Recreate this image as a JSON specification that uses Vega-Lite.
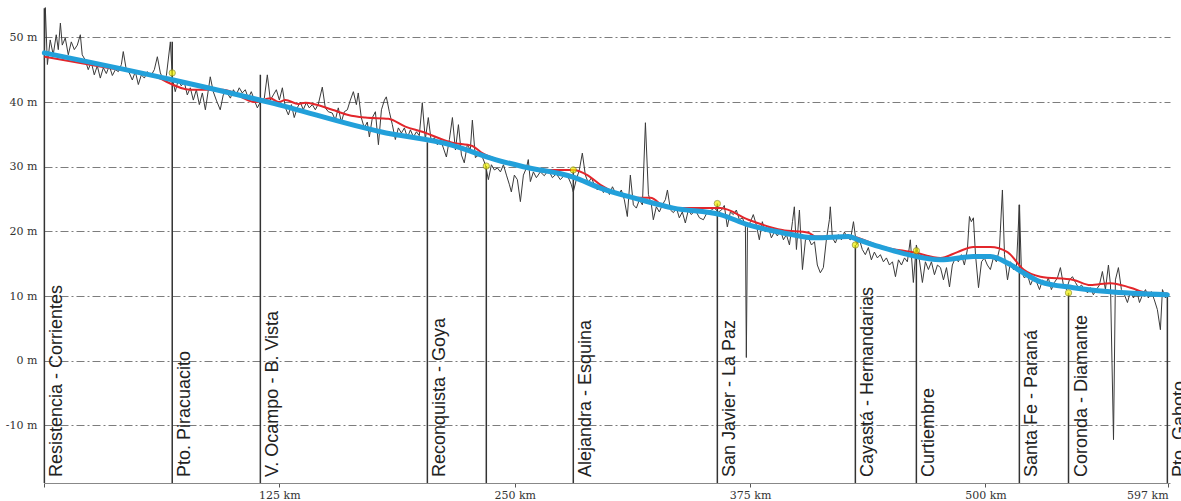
{
"$schema": "https://vega.github.io/schema/vega-lite/v6.json",
"width": 1126, "height": 478,
"autosize": {"type": "none"},
"padding": {"left": 44, "top": 5, "right": 11, "bottom": 18},
"background": "white",
"config": {"view": {"stroke": null}, "font": "Liberation Sans"},
"datasets": {
"stations": [
{"name": "Resistencia - Corrientes", "km": 0.2, "top": 54.5},
{"name": "Pto. Piracuacito", "km": 68.1, "top": 49.3},
{"name": "V. Ocampo - B. Vista", "km": 114.9, "top": 44.2},
{"name": "Reconquista - Goya", "km": 203.6, "top": 33.8},
{"name": "", "km": 234.9, "top": 30.1},
{"name": "Alejandra - Esquina", "km": 281.1, "top": 29.5},
{"name": "San Javier - La Paz", "km": 357.6, "top": 24.3},
{"name": "Cayastá - Hernandarias", "km": 430.9, "top": 17.9},
{"name": "Curtiembre", "km": 463.3, "top": 17.2},
{"name": "Santa Fe - Paraná", "km": 518.0, "top": 24.1},
{"name": "Coronda - Diamante", "km": 544.1, "top": 10.5},
{"name": "Pto. Gaboto", "km": 596.6, "top": 10.2}
],
"markers": [
{"km": 68.1, "m": 44.5}, {"km": 234.9, "m": 30.1}, {"km": 281.1, "m": 29.5},
{"km": 357.6, "m": 24.3}, {"km": 430.9, "m": 17.9}, {"km": 463.3, "m": 17.0},
{"km": 544.1, "m": 10.5}
],
"blue": [
{"km": 0.2, "m": 47.6}, {"km": 68.7, "m": 43.4}, {"km": 120.2, "m": 39.9},
{"km": 178.7, "m": 35.4}, {"km": 216.9, "m": 33.3}, {"km": 239.7, "m": 31.1},
{"km": 254.6, "m": 30.0}, {"km": 281.1, "m": 28.4}, {"km": 295.5, "m": 26.7},
{"km": 316.7, "m": 24.9}, {"km": 334.3, "m": 23.6}, {"km": 359.2, "m": 22.6},
{"km": 374.1, "m": 21.0}, {"km": 392.1, "m": 19.8}, {"km": 409.7, "m": 19.0},
{"km": 427.2, "m": 19.2}, {"km": 432.5, "m": 18.7}, {"km": 445.3, "m": 17.5},
{"km": 459.1, "m": 16.4}, {"km": 476.1, "m": 15.6}, {"km": 493.6, "m": 16.1},
{"km": 502.6, "m": 16.1}, {"km": 511.7, "m": 15.1}, {"km": 520.1, "m": 13.6},
{"km": 529.2, "m": 12.2}, {"km": 546.7, "m": 11.3}, {"km": 564.8, "m": 10.7},
{"km": 596.6, "m": 10.2}
],
"red": [
{"km": 0.2, "m": 47.0}, {"km": 33.6, "m": 45.3}, {"km": 56.5, "m": 44.2},
{"km": 77.7, "m": 41.9}, {"km": 95.2, "m": 41.9}, {"km": 112.2, "m": 40.0},
{"km": 120.2, "m": 40.6}, {"km": 124.5, "m": 40.0}, {"km": 128.2, "m": 40.3},
{"km": 135.1, "m": 39.7}, {"km": 138.8, "m": 39.9}, {"km": 153.1, "m": 38.8},
{"km": 161.6, "m": 38.0}, {"km": 170.6, "m": 37.6}, {"km": 182.9, "m": 37.4},
{"km": 191.9, "m": 36.2}, {"km": 200.9, "m": 35.4}, {"km": 216.9, "m": 33.7},
{"km": 227.5, "m": 33.2}, {"km": 232.8, "m": 32.1}, {"km": 237.1, "m": 31.5},
{"km": 254.6, "m": 30.0}, {"km": 268.9, "m": 29.5}, {"km": 281.1, "m": 29.5},
{"km": 288.6, "m": 28.7}, {"km": 295.5, "m": 27.2}, {"km": 315.1, "m": 25.2},
{"km": 322.0, "m": 25.2}, {"km": 331.1, "m": 23.6}, {"km": 359.2, "m": 23.6},
{"km": 374.1, "m": 21.8}, {"km": 392.1, "m": 20.2}, {"km": 406.0, "m": 19.8},
{"km": 409.7, "m": 19.2}, {"km": 427.2, "m": 19.3}, {"km": 445.3, "m": 17.6},
{"km": 462.8, "m": 16.7}, {"km": 476.1, "m": 15.9}, {"km": 485.1, "m": 16.8},
{"km": 493.6, "m": 17.6}, {"km": 502.6, "m": 17.6}, {"km": 511.7, "m": 16.8},
{"km": 520.2, "m": 14.1}, {"km": 529.2, "m": 13.0}, {"km": 546.7, "m": 12.5},
{"km": 555.7, "m": 11.7}, {"km": 566.4, "m": 12.0}, {"km": 577.0, "m": 11.3},
{"km": 586.0, "m": 10.5}, {"km": 596.6, "m": 10.4}
],
"noisy": [
{"km":0.2,"m":46.5},{"km":0.7,"m":54.6},{"km":1.8,"m":45.8},{"km":3.3,"m":49.6},{"km":4.9,"m":47.3},{"km":6.5,"m":50.4},{"km":7.6,"m":48.1},{"km":8.7,"m":52.2},{"km":9.7,"m":48.8},{"km":11.3,"m":49.9},{"km":12.9,"m":47.3},{"km":14.5,"m":49.3},{"km":16.1,"m":48.1},{"km":17.7,"m":48.8},{"km":19.3,"m":50.4},{"km":20.3,"m":47.3},{"km":21.9,"m":46.5},{"km":23.5,"m":45.0},{"km":25.1,"m":46.2},{"km":26.7,"m":44.2},{"km":28.3,"m":45.6},{"km":29.9,"m":43.7},{"km":31.5,"m":45.3},{"km":33.1,"m":44.4},{"km":34.7,"m":45.6},{"km":36.3,"m":44.1},{"km":37.9,"m":45.0},{"km":39.5,"m":44.7},{"km":41.1,"m":45.8},{"km":42.1,"m":47.8},{"km":43.7,"m":45.0},{"km":45.3,"m":44.5},{"km":46.9,"m":43.4},{"km":48.5,"m":44.7},{"km":50.1,"m":42.7},{"km":51.7,"m":44.2},{"km":53.3,"m":43.7},{"km":54.9,"m":44.7},{"km":56.5,"m":43.9},{"km":58.6,"m":45.0},{"km":60.2,"m":47.0},{"km":61.8,"m":44.5},{"km":63.4,"m":43.4},{"km":65.0,"m":44.1},{"km":67.1,"m":49.3},{"km":68.2,"m":43.7},{"km":69.7,"m":41.6},{"km":71.3,"m":43.4},{"km":72.9,"m":42.5},{"km":74.5,"m":43.1},{"km":76.1,"m":41.1},{"km":77.7,"m":42.2},{"km":79.3,"m":40.3},{"km":80.9,"m":41.9},{"km":82.5,"m":39.6},{"km":84.1,"m":41.4},{"km":85.7,"m":38.8},{"km":87.3,"m":41.9},{"km":88.3,"m":43.9},{"km":89.9,"m":41.6},{"km":91.5,"m":40.3},{"km":93.6,"m":38.8},{"km":95.2,"m":41.1},{"km":96.8,"m":41.6},{"km":99.0,"m":40.6},{"km":100.6,"m":41.9},{"km":102.1,"m":41.1},{"km":103.7,"m":42.2},{"km":105.3,"m":41.4},{"km":106.9,"m":41.9},{"km":108.5,"m":40.6},{"km":110.1,"m":41.6},{"km":111.7,"m":40.3},{"km":113.3,"m":39.1},{"km":114.9,"m":40.0},{"km":117.0,"m":40.6},{"km":118.6,"m":44.2},{"km":120.2,"m":40.3},
{"km":121.8,"m":41.1},{"km":123.4,"m":41.9},{"km":125.0,"m":40.3},{"km":126.6,"m":42.2},{"km":128.2,"m":39.1},{"km":129.8,"m":38.0},{"km":131.4,"m":39.6},{"km":132.9,"m":37.6},{"km":134.5,"m":39.1},{"km":136.1,"m":40.0},{"km":137.7,"m":38.8},{"km":139.3,"m":39.9},{"km":140.9,"m":39.1},{"km":142.5,"m":39.6},{"km":144.1,"m":38.8},{"km":145.7,"m":39.7},{"km":147.8,"m":42.3},{"km":149.4,"m":39.1},{"km":151.0,"m":38.5},{"km":153.1,"m":38.3},{"km":154.7,"m":37.2},{"km":156.3,"m":39.1},{"km":157.9,"m":36.9},{"km":159.5,"m":38.5},{"km":161.1,"m":38.8},{"km":162.7,"m":40.3},{"km":164.3,"m":41.6},{"km":165.9,"m":39.6},{"km":166.9,"m":41.4},{"km":168.5,"m":37.6},{"km":170.1,"m":36.0},{"km":171.7,"m":36.9},{"km":172.8,"m":34.6},{"km":174.4,"m":37.6},{"km":176.0,"m":38.5},{"km":177.6,"m":33.4},{"km":179.2,"m":38.8},{"km":180.8,"m":40.3},{"km":181.8,"m":40.8},{"km":183.4,"m":38.5},{"km":185.0,"m":36.5},{"km":186.6,"m":34.2},{"km":188.2,"m":36.0},{"km":189.8,"m":35.2},{"km":191.4,"m":36.0},{"km":193.0,"m":34.5},{"km":194.6,"m":35.7},{"km":196.2,"m":34.6},{"km":197.8,"m":35.4},{"km":199.3,"m":34.8},{"km":200.9,"m":39.9},{"km":202.5,"m":34.2},{"km":204.1,"m":37.6},{"km":205.7,"m":33.8},{"km":207.3,"m":34.5},{"km":208.9,"m":33.4},{"km":210.5,"m":34.2},{"km":212.1,"m":32.9},{"km":213.7,"m":31.5},{"km":215.3,"m":34.2},{"km":216.9,"m":37.6},{"km":218.5,"m":32.6},{"km":220.1,"m":36.5},{"km":221.7,"m":31.8},{"km":223.2,"m":30.6},{"km":224.8,"m":33.4},{"km":226.4,"m":32.6},{"km":227.5,"m":37.2},{"km":229.1,"m":31.4},{"km":230.7,"m":31.8},{"km":232.8,"m":31.5},{"km":234.4,"m":30.3},{"km":236.0,"m":28.0},{"km":237.6,"m":30.3},{"km":239.2,"m":29.5},
{"km":240.8,"m":29.8},{"km":242.4,"m":29.2},{"km":244.0,"m":30.3},{"km":245.6,"m":28.7},{"km":247.2,"m":27.2},{"km":248.2,"m":26.1},{"km":249.8,"m":28.7},{"km":251.4,"m":28.0},{"km":253.0,"m":24.6},{"km":254.6,"m":28.7},{"km":256.2,"m":29.8},{"km":257.2,"m":31.1},{"km":258.3,"m":27.7},{"km":259.9,"m":29.2},{"km":261.5,"m":28.3},{"km":263.6,"m":29.2},{"km":265.7,"m":28.6},{"km":267.9,"m":29.5},{"km":270.0,"m":28.3},{"km":272.1,"m":28.9},{"km":274.2,"m":28.0},{"km":276.4,"m":28.7},{"km":278.5,"m":28.3},{"km":280.1,"m":27.2},{"km":281.1,"m":26.1},{"km":282.7,"m":28.0},{"km":284.3,"m":29.5},{"km":285.9,"m":32.1},{"km":287.5,"m":28.7},{"km":289.1,"m":27.5},{"km":290.7,"m":28.3},{"km":292.3,"m":27.2},{"km":293.9,"m":26.4},{"km":295.5,"m":27.0},{"km":297.1,"m":26.0},{"km":298.7,"m":26.7},{"km":300.3,"m":25.7},{"km":301.9,"m":26.9},{"km":303.4,"m":26.0},{"km":305.0,"m":25.5},{"km":306.6,"m":26.4},{"km":308.2,"m":24.9},{"km":309.8,"m":22.3},{"km":311.4,"m":28.7},{"km":313.0,"m":24.1},{"km":314.6,"m":23.6},{"km":316.2,"m":24.9},{"km":317.8,"m":24.1},{"km":319.4,"m":36.8},{"km":321.0,"m":25.7},{"km":322.6,"m":24.1},{"km":323.6,"m":21.8},{"km":325.2,"m":23.8},{"km":326.8,"m":23.0},{"km":328.4,"m":24.1},{"km":330.0,"m":24.9},{"km":331.1,"m":26.4},{"km":332.7,"m":23.3},{"km":334.3,"m":22.9},{"km":335.9,"m":23.6},{"km":337.4,"m":22.1},{"km":339.0,"m":23.0},{"km":340.6,"m":21.3},{"km":342.2,"m":23.3},{"km":343.8,"m":22.6},{"km":345.9,"m":23.3},{"km":348.1,"m":22.1},{"km":350.2,"m":21.8},{"km":352.3,"m":23.0},{"km":354.4,"m":23.3},{"km":356.0,"m":23.6},{"km":358.2,"m":23.0},
{"km":359.8,"m":23.3},{"km":361.3,"m":24.0},{"km":362.9,"m":20.7},{"km":364.5,"m":23.0},{"km":366.1,"m":22.6},{"km":367.7,"m":23.3},{"km":369.3,"m":21.8},{"km":370.9,"m":22.1},{"km":372.5,"m":21.0},{"km":373.0,"m":0.5},{"km":373.6,"m":20.6},{"km":375.2,"m":21.5},{"km":376.7,"m":22.6},{"km":378.3,"m":21.0},{"km":379.9,"m":18.7},{"km":381.5,"m":21.5},{"km":383.1,"m":19.9},{"km":384.7,"m":20.6},{"km":386.3,"m":19.0},{"km":387.9,"m":19.9},{"km":389.5,"m":19.3},{"km":391.1,"m":20.2},{"km":392.7,"m":18.7},{"km":394.3,"m":19.5},{"km":395.9,"m":17.9},{"km":397.5,"m":21.5},{"km":398.5,"m":23.8},{"km":399.6,"m":17.2},{"km":401.2,"m":23.3},{"km":402.8,"m":14.1},{"km":404.4,"m":18.7},{"km":406.0,"m":19.0},{"km":407.6,"m":17.9},{"km":409.2,"m":18.4},{"km":410.7,"m":14.8},{"km":412.3,"m":13.6},{"km":413.9,"m":14.4},{"km":415.5,"m":18.7},{"km":417.1,"m":21.8},{"km":417.6,"m":23.8},{"km":418.7,"m":19.0},{"km":420.3,"m":18.2},{"km":421.9,"m":19.5},{"km":423.5,"m":18.7},{"km":425.1,"m":19.9},{"km":426.7,"m":19.0},{"km":428.3,"m":18.7},{"km":429.9,"m":21.5},{"km":431.5,"m":17.9},{"km":433.1,"m":18.7},{"km":434.6,"m":17.2},{"km":436.2,"m":16.4},{"km":437.8,"m":17.5},{"km":439.4,"m":15.6},{"km":441.0,"m":16.8},{"km":442.6,"m":15.9},{"km":444.2,"m":16.4},{"km":445.8,"m":15.3},{"km":447.4,"m":15.9},{"km":449.0,"m":14.8},{"km":450.6,"m":15.3},{"km":452.2,"m":13.0},{"km":453.8,"m":15.6},{"km":455.4,"m":14.8},{"km":457.0,"m":15.9},{"km":458.5,"m":15.3},{"km":460.1,"m":18.7},{"km":461.7,"m":12.1},{"km":463.3,"m":17.9},{"km":464.9,"m":15.6},{"km":466.5,"m":12.1},{"km":468.1,"m":15.3},{"km":469.7,"m":14.1},{"km":471.3,"m":15.3},{"km":472.9,"m":13.3},{"km":474.5,"m":14.8},{"km":476.1,"m":14.4},{"km":477.7,"m":12.5},
{"km":479.3,"m":14.4},{"km":480.9,"m":11.4},{"km":482.4,"m":14.8},{"km":484.0,"m":15.9},{"km":485.6,"m":15.3},{"km":487.2,"m":16.4},{"km":488.8,"m":14.8},{"km":490.4,"m":17.2},{"km":491.5,"m":22.3},{"km":492.5,"m":21.5},{"km":493.6,"m":22.1},{"km":494.7,"m":16.4},{"km":496.3,"m":11.3},{"km":497.9,"m":15.3},{"km":499.4,"m":15.9},{"km":501.0,"m":14.8},{"km":502.6,"m":14.1},{"km":504.2,"m":15.9},{"km":505.8,"m":15.3},{"km":507.4,"m":17.2},{"km":509.0,"m":26.4},{"km":510.1,"m":16.4},{"km":511.7,"m":12.5},{"km":513.3,"m":15.3},{"km":514.8,"m":14.1},{"km":516.4,"m":14.4},{"km":518.0,"m":24.1},{"km":519.1,"m":13.8},{"km":520.7,"m":12.8},{"km":522.3,"m":13.3},{"km":523.9,"m":11.7},{"km":525.5,"m":12.8},{"km":527.1,"m":12.2},{"km":528.7,"m":11.0},{"km":530.3,"m":12.5},{"km":531.8,"m":11.7},{"km":533.4,"m":12.8},{"km":535.0,"m":11.0},{"km":536.6,"m":12.1},{"km":538.2,"m":12.8},{"km":539.8,"m":14.4},{"km":541.4,"m":11.7},{"km":543.0,"m":11.0},{"km":544.6,"m":12.5},{"km":546.2,"m":13.0},{"km":547.8,"m":12.1},{"km":549.4,"m":11.3},{"km":551.0,"m":11.7},{"km":552.6,"m":11.0},{"km":554.2,"m":10.5},{"km":555.7,"m":11.3},{"km":557.3,"m":10.2},{"km":558.9,"m":11.0},{"km":560.5,"m":11.7},{"km":562.1,"m":13.8},{"km":563.7,"m":11.0},{"km":565.3,"m":14.8},{"km":566.4,"m":11.7},{"km":568.0,"m":-12.2},{"km":569.0,"m":12.5},{"km":570.6,"m":14.4},{"km":572.2,"m":11.0},{"km":573.8,"m":10.2},{"km":575.4,"m":9.0},{"km":577.0,"m":10.7},{"km":578.6,"m":9.7},{"km":580.2,"m":11.0},{"km":581.8,"m":9.0},{"km":583.4,"m":10.2},{"km":585.0,"m":11.0},{"km":586.5,"m":9.7},{"km":588.1,"m":10.7},{"km":589.7,"m":9.4},{"km":591.3,"m":7.9},{"km":592.9,"m":4.8},{"km":594.0,"m":11.0},{"km":595.6,"m":9.7},{"km":596.6,"m":10.2}
]
},
"layer": [
{
"data": {"name": "stations"},
"mark": {"type": "rule", "color": "#333333", "strokeWidth": 1.5},
"encoding": {
"x": {"field": "km", "type": "quantitative",
"scale": {"domain": [0, 598], "nice": false, "zero": false},
"axis": {"title": null, "grid": false, "values": [0, 125, 250, 375, 500, 597],
"labelExpr": "datum.value == 0 ? '' : datum.value + ' km'",
"labelFont": "DejaVu Serif", "labelFontSize": 11, "labelColor": "#333333",
"labelAlign": {"condition": {"test": "datum.value == 597", "value": "right"}, "value": "center"},
"domainColor": "#888888", "tickColor": "#555555", "tickSize": 4, "labelPadding": 2}},
"y": {"field": "top", "type": "quantitative",
"scale": {"domain": [-18.9, 55], "nice": false, "zero": false},
"axis": {"title": null, "values": [-10, 0, 10, 20, 30, 40, 50],
"labelExpr": "datum.value + ' m'", "labelFont": "DejaVu Serif", "labelFontSize": 11,
"labelColor": "#333333", "domain": false, "ticks": false, "labelPadding": 7,
"grid": true, "gridDash": [8, 3, 2, 3], "gridColor": "#666666", "gridOpacity": 0.85, "gridWidth": 1}},
"y2": {"datum": -18.9}
}
},
{
"data": {"name": "noisy"},
"mark": {"type": "line", "color": "#3a3a3a", "strokeWidth": 1},
"encoding": {"x": {"field": "km", "type": "quantitative"}, "y": {"field": "m", "type": "quantitative"}}
},
{
"data": {"name": "red"},
"mark": {"type": "line", "color": "#e3262b", "strokeWidth": 2, "interpolate": "monotone"},
"encoding": {"x": {"field": "km", "type": "quantitative"}, "y": {"field": "m", "type": "quantitative"}}
},
{
"data": {"name": "blue"},
"mark": {"type": "line", "color": "#22a0da", "strokeWidth": 5, "interpolate": "monotone", "strokeCap": "round"},
"encoding": {"x": {"field": "km", "type": "quantitative"}, "y": {"field": "m", "type": "quantitative"}}
},
{
"data": {"name": "markers"},
"mark": {"type": "point", "filled": true, "shape": "circle", "size": 40, "color": "#f2f200", "stroke": "#8a8a10", "strokeWidth": 1},
"encoding": {"x": {"field": "km", "type": "quantitative"}, "y": {"field": "m", "type": "quantitative"}}
},
{
"data": {"name": "stations"},
"mark": {"type": "text", "angle": 270, "align": "left", "baseline": "top", "font": "Liberation Sans", "fontSize": 18, "color": "#222222", "xOffset": 4, "yOffset": -6},
"encoding": {"x": {"field": "km", "type": "quantitative"}, "y": {"datum": -18.9}, "text": {"field": "name"}}
}
]
}
